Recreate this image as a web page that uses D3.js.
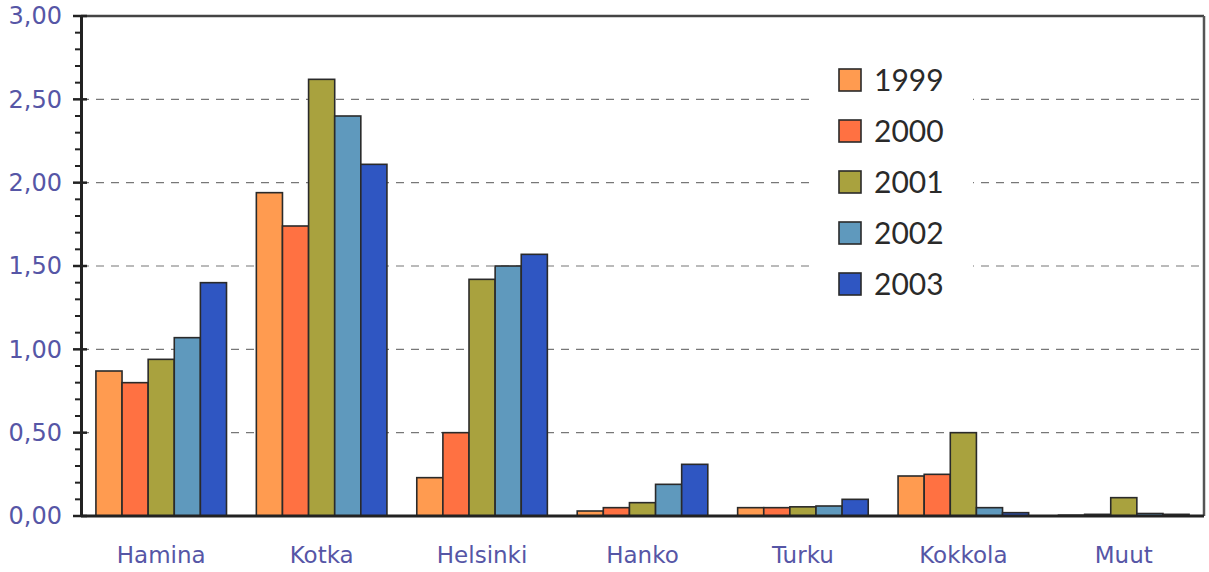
<!DOCTYPE html>
<html><head><meta charset="utf-8">
<script src="https://cdn.jsdelivr.net/npm/d3@7"></script>
<style>body{margin:0;background:#fff}svg{display:block}</style>
</head><body><svg id="c" width="1209" height="572"></svg>
<script>
const categories = ["Hamina","Kotka","Helsinki","Hanko","Turku","Kokkola","Muut"];
const years = ["1999","2000","2001","2002","2003"];
const v1999 = [0.87,1.94,0.23,0.03,0.05,0.24,0.005];
const v2000 = [0.80,1.74,0.50,0.05,0.05,0.25,0.01];
const v2001 = [0.94,2.62,1.42,0.08,0.055,0.50,0.11];
const v2002 = [1.07,2.40,1.50,0.19,0.06,0.05,0.015];
const v2003 = [1.40,2.11,1.57,0.31,0.10,0.02,0.01];
const yTicks = [0,0.5,1,1.5,2,2.5,3];
const colors = ["#FF9B50","#FF7142","#A9A23E","#5F99BD","#2F56C2"];
const series = [v1999,v2000,v2001,v2002,v2003];

const svg = d3.select("#c");
const L=81, R=1204, T=16, B=516;
const x0 = d3.scaleBand().domain(categories).range([L,R]).paddingInner(0.186).paddingOuter(0.093);
const x1 = d3.scaleBand().domain(years).range([0,x0.bandwidth()]);
const y = d3.scaleLinear().domain([0,3]).range([B,T]);
const fmt = d => d.toFixed(2).replace(".",",");
const FONT = "'DejaVu Sans', sans-serif";

// gridlines
svg.append("g").selectAll("line").data(yTicks.filter(d=>d>0&&d<3)).join("line")
  .attr("x1",L).attr("x2",R).attr("y1",d=>y(d)).attr("y2",d=>y(d))
  .attr("stroke","#777").attr("stroke-width",1.2).attr("stroke-dasharray","8,7");

// bars
const g = svg.append("g");
categories.forEach((c,i)=>{
  series.forEach((s,j)=>{
    g.append("rect").attr("x",x0(c)+x1(years[j])).attr("width",x1.bandwidth())
      .attr("y",y(s[i])).attr("height",B-y(s[i]))
      .attr("fill",colors[j]).attr("stroke","#2a2a2a").attr("stroke-width",1.6);
  });
});

// frame
svg.append("line").attr("x1",L).attr("x2",R).attr("y1",T).attr("y2",T).attr("stroke","#444").attr("stroke-width",2.5);
svg.append("line").attr("x1",R).attr("x2",R).attr("y1",T).attr("y2",B).attr("stroke","#555").attr("stroke-width",2.5);

// y axis
const ya = svg.append("g").attr("transform",`translate(${L},0)`)
  .call(d3.axisLeft(y).tickValues(yTicks).tickFormat(fmt).tickSize(0).tickPadding(19));
ya.select(".domain").attr("stroke","#222").attr("stroke-width",3);
ya.selectAll("text").attr("fill","#5656A6").attr("font-family",FONT).attr("font-size",24);
// major ticks crossing
svg.append("g").selectAll("line").data(yTicks).join("line")
  .attr("x1",L-8).attr("x2",L+6).attr("y1",d=>y(d)).attr("y2",d=>y(d)).attr("stroke","#222").attr("stroke-width",2.5);
// minor ticks
svg.append("g").selectAll("line").data(d3.range(0,31).map(i=>i/10).filter((d,i)=>i%5!==0)).join("line")
  .attr("x1",L-6).attr("x2",L).attr("y1",d=>y(d)).attr("y2",d=>y(d)).attr("stroke","#222").attr("stroke-width",2);

// x axis
const xa = svg.append("g").attr("transform",`translate(0,${B})`)
  .call(d3.axisBottom(x0).tickSize(0).tickPadding(31));
xa.select(".domain").attr("stroke","#222").attr("stroke-width",3).attr("d",`M${L},0H${R}`);
xa.selectAll("text").attr("fill","#5656A6").attr("font-family",FONT).attr("font-size",23);

// legend
const lg = svg.append("g");
lg.append("rect").attr("x",815).attr("y",55).attr("width",158).attr("height",255).attr("fill","#fff");
years.forEach((yr,j)=>{
  const cy = 80 + j*51;
  lg.append("rect").attr("x",839).attr("y",cy-11).attr("width",22).attr("height",22)
    .attr("fill",colors[j]).attr("stroke","#2a2a2a").attr("stroke-width",1.6);
  lg.append("text").attr("x",874).attr("y",cy).attr("dy","0.36em").text(yr)
    .attr("fill","#2a2a2a").attr("font-family","Lato, sans-serif").attr("font-size",30);
});
</script></body></html>
